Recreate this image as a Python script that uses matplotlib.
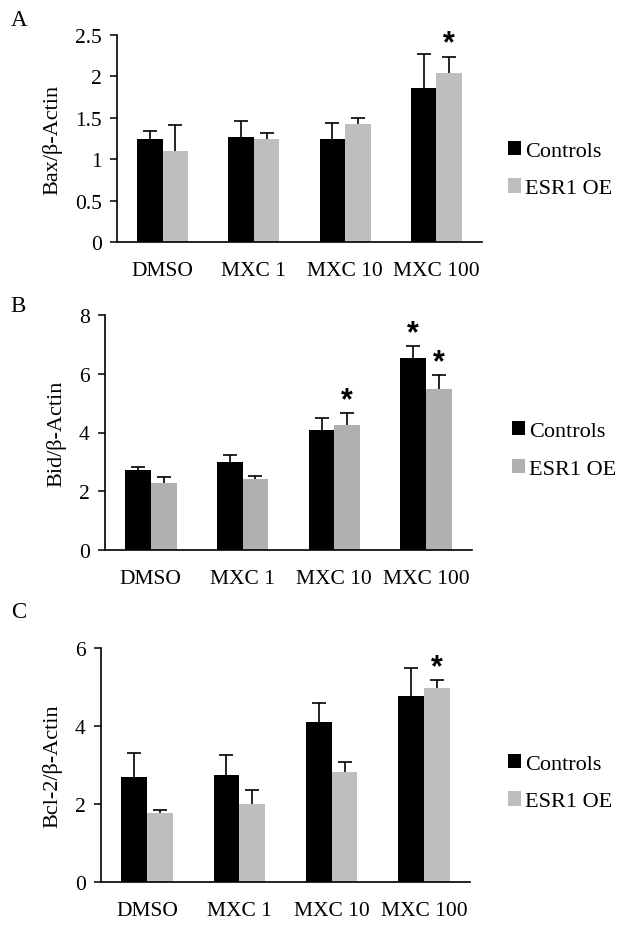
import matplotlib
matplotlib.use("Agg")
import matplotlib.pyplot as plt
import numpy as np
from matplotlib.patches import Patch

plt.rcParams['font.family'] = ['Liberation Serif', 'DejaVu Serif']

categories = ["DMSO", "MXC 1", "MXC 10", "MXC 100"]
series = ["Controls", "ESR1 OE"]

# Panel A: Bax/β-Actin
bax_ctrl = [1.24, 1.27, 1.24, 1.86]
bax_ctrl_err = [0.10, 0.19, 0.20, 0.41]
bax_esr = [1.10, 1.24, 1.42, 2.04]
bax_esr_err = [0.31, 0.08, 0.08, 0.20]
bax_stars_ctrl = [False, False, False, False]
bax_stars_esr = [False, False, False, True]
bax_ticks = [0, 0.5, 1, 1.5, 2, 2.5]
bax_ticklabels = ["0", "0.5", "1", "1.5", "2", "2.5"]

# Panel B: Bid/β-Actin
bid_ctrl = [2.72, 3.01, 4.07, 6.53]
bid_ctrl_err = [0.09, 0.22, 0.42, 0.41]
bid_esr = [2.27, 2.42, 4.25, 5.48]
bid_esr_err = [0.23, 0.10, 0.40, 0.49]
bid_stars_ctrl = [False, False, False, True]
bid_stars_esr = [False, False, True, True]
bid_ticks = [0, 2, 4, 6, 8]
bid_ticklabels = ["0", "2", "4", "6", "8"]

# Panel C: Bcl-2/β-Actin
bcl_ctrl = [2.70, 2.75, 4.10, 4.78]
bcl_ctrl_err = [0.62, 0.51, 0.50, 0.70]
bcl_esr = [1.76, 1.99, 2.83, 4.97]
bcl_esr_err = [0.08, 0.38, 0.24, 0.21]
bcl_stars_ctrl = [False, False, False, False]
bcl_stars_esr = [False, False, False, True]
bcl_ticks = [0, 2, 4, 6]
bcl_ticklabels = ["0", "2", "4", "6"]

W, H = 624, 929
fig = plt.figure(figsize=(W / 100, H / 100), dpi=100)

def px_axes(left, right, top, bottom):
    return fig.add_axes([left / W, (H - bottom) / H, (right - left) / W, (bottom - top) / H])

panels = [
    dict(box=(117, 482, 36, 243), ctrl=bax_ctrl, ce=bax_ctrl_err, esr=bax_esr, ee=bax_esr_err,
         sc=bax_stars_ctrl, se=bax_stars_esr, ticks=bax_ticks, tl=bax_ticklabels,
         ylabel="Bax/β-Actin", letter="A", letter_xy=(19, 21), ylab_x=52,
         grey="#BEBEBE", leg_y=(148, 193), leg_x=514),
    dict(box=(105, 472, 316, 551), ctrl=bid_ctrl, ce=bid_ctrl_err, esr=bid_esr, ee=bid_esr_err,
         sc=bid_stars_ctrl, se=bid_stars_esr, ticks=bid_ticks, tl=bid_ticklabels,
         ylabel="Bid/β-Actin", letter="B", letter_xy=(18, 306), ylab_x=56,
         grey="#B0B0B0", leg_y=(429, 473), leg_x=518),
    dict(box=(101, 470, 649, 883), ctrl=bcl_ctrl, ce=bcl_ctrl_err, esr=bcl_esr, ee=bcl_esr_err,
         sc=bcl_stars_ctrl, se=bcl_stars_esr, ticks=bcl_ticks, tl=bcl_ticklabels,
         ylabel="Bcl-2/β-Actin", letter="C", letter_xy=(19, 612), ylab_x=52,
         grey="#BEBEBE", leg_y=(763, 804), leg_x=514),
]

bw = 0.28
x = np.arange(len(categories))
fs = 15.5

def up_err(ax, xs, vals, errs):
    vals = np.asarray(vals)
    tops = vals + np.asarray(errs)
    ax.vlines(xs, vals, tops, color="black", lw=1.2, zorder=3)
    ax.plot(xs, tops, ls="none", marker="_", markersize=10, mew=1.2, color="black", zorder=3)
    return tops

def star(ax, xx, yy):
    ax.annotate("*", (xx, yy), xytext=(0, 3.5), textcoords="offset points",
                ha="center", va="baseline", fontsize=22, fontweight="bold",
                family="Liberation Sans")

for p in panels:
    l, r, t, b = p["box"]
    ax = px_axes(l, r, t, b)
    ax.bar(x - bw / 2, p["ctrl"], width=bw, color="black", zorder=2)
    ax.bar(x + bw / 2, p["esr"], width=bw, color=p["grey"], zorder=2)
    tc = up_err(ax, x - bw / 2, p["ctrl"], p["ce"])
    te = up_err(ax, x + bw / 2, p["esr"], p["ee"])
    for i in range(4):
        if p["sc"][i]:
            star(ax, x[i] - bw / 2, tc[i])
        if p["se"][i]:
            star(ax, x[i] + bw / 2, te[i])
    ax.set_xlim(-0.5, 3.5)
    ax.set_ylim(p["ticks"][0], p["ticks"][-1])
    ax.set_yticks(p["ticks"])
    ax.set_yticklabels(p["tl"], fontsize=fs)
    ax.set_xticks(x)
    ax.set_xticklabels(categories, fontsize=fs)
    ax.tick_params(axis="x", length=0, pad=14)
    ax.tick_params(axis="y", direction="out", length=5, width=1.1, pad=6)
    for s in ["top", "right"]:
        ax.spines[s].set_visible(False)
    for s in ["left", "bottom"]:
        ax.spines[s].set_linewidth(1.2)
    fig.text(p["ylab_x"] / W, 1 - ((t + b) / 2) / H, p["ylabel"], rotation=90,
             ha="center", va="center", fontsize=16)
    fig.text(p["letter_xy"][0] / W, 1 - p["letter_xy"][1] / H, p["letter"],
             ha="center", va="center", fontsize=16.5)
    handles = [Patch(facecolor="black"), Patch(facecolor=p["grey"])]
    y0, y1 = p["leg_y"]
    fig.legend(handles, series, loc="center left",
               bbox_to_anchor=((p["leg_x"] - 6) / W, 1 - ((y0 + y1) / 2) / H),
               frameon=False, fontsize=16, handlelength=0.6, handleheight=0.6,
               handletextpad=0.15, labelspacing=0.8, borderpad=0, borderaxespad=0)

fig.savefig("out.png", dpi=100)
